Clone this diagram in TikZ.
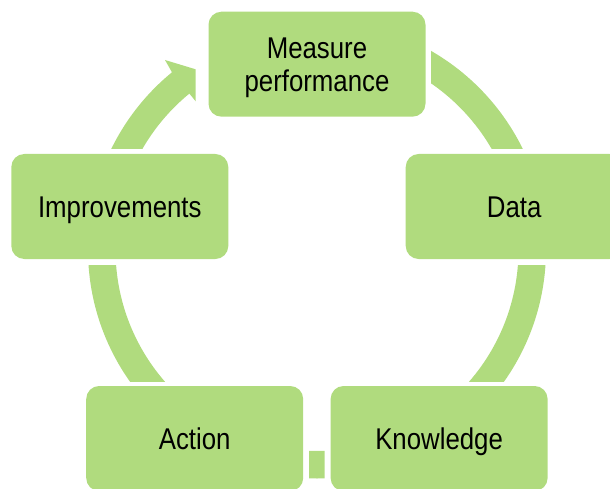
\documentclass[tikz,border=0pt]{standalone}
\usepackage{fontspec}
\setmainfont[FakeStretch=0.86]{Liberation Sans}
\usetikzlibrary{calc}
\definecolor{leaf}{RGB}{176,219,126}
\begin{document}
\begin{tikzpicture}[x=1pt,y=1pt,
  stepbox/.style={fill=leaf, rounded corners=13pt, minimum width=217pt, minimum height=105pt,
    inner sep=0pt, align=center, font=\fontsize{30}{33}\selectfont, text height=21pt, text depth=-1.5pt},
  ring/.style={draw=leaf, line width=27.5pt}]
\useasboundingbox (0,0) rectangle (610,488);
\clip (0,0) rectangle (610,488);
\coordinate (C) at (317,238.5);
% ring segments
\begin{scope}
  \clip (431,339) rectangle (620,500);
  \draw[ring] (C) circle[radius=215.25pt];
\end{scope}
\begin{scope}
  \clip (317,107) rectangle (620,223);
  \draw[ring] (C) circle[radius=215.25pt];
\end{scope}
\begin{scope}
  \clip (309,-20) rectangle (324.5,88);
  \draw[ring] (C) circle[radius=215.25pt];
\end{scope}
\begin{scope}
  \clip (-10,107) rectangle (317,223);
  \draw[ring] (C) circle[radius=215.25pt];
\end{scope}
\begin{scope}
  \clip (-10,339) rectangle (195.7,500);
  \fill[leaf] ($(C)+(160:229pt)$) arc[start angle=160, end angle=129.3, radius=229pt]
    -- (165,428) -- (214.1,413.1) -- (198.5,383.2)
    -- ($(C)+(129.3:201.5pt)$) arc[start angle=129.3, end angle=160, radius=201.5pt] -- cycle;
\end{scope}
% boxes
\node[stepbox, text height=54pt, text depth=0pt] (measure) at (317,423.8) {Measure\\performance};
\node[stepbox] (data) at (514.2,281.5) {Data};
\node[stepbox] (improve) at (119.8,281.5) {Improvements};
\node[stepbox] (action) at (194.7,49.5) {Action};
\node[stepbox] (know) at (439.1,49.5) {Knowledge};
\end{tikzpicture}
\end{document}
